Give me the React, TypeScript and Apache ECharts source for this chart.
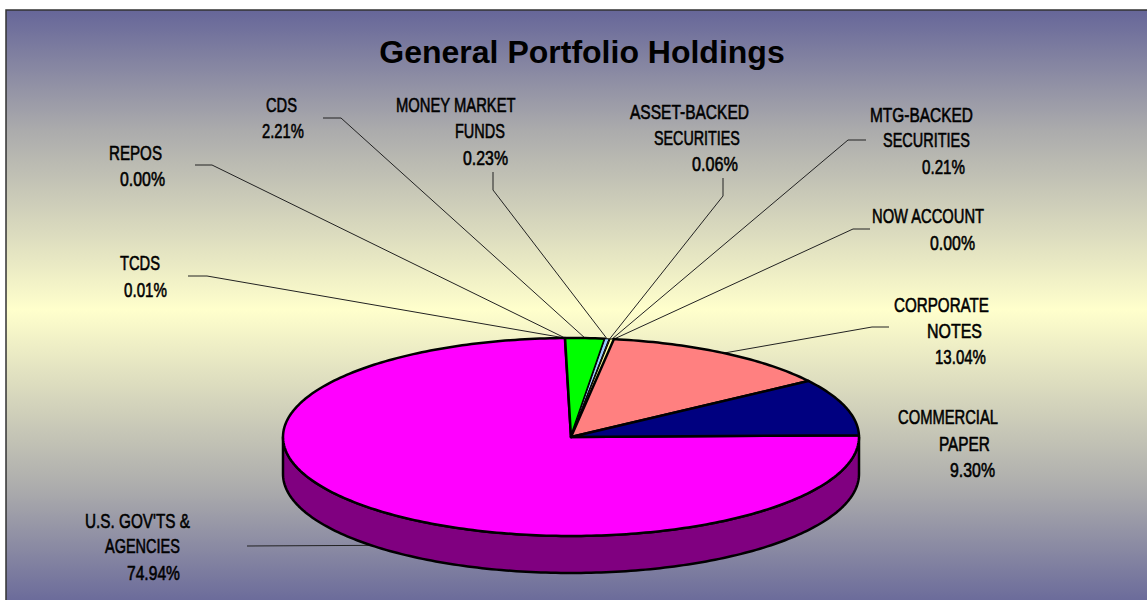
import React, { useEffect, useRef } from "react";
import * as echarts from "echarts";

const categories = [
  ["U.S. GOV'TS &", "AGENCIES"],
  ["TCDS"],
  ["REPOS"],
  ["CDS"],
  ["MONEY MARKET", "FUNDS"],
  ["ASSET-BACKED", "SECURITIES"],
  ["MTG-BACKED", "SECURITIES"],
  ["NOW ACCOUNT"],
  ["CORPORATE", "NOTES"],
  ["COMMERCIAL", "PAPER"],
];
const values = [74.94, 0.01, 0.0, 2.21, 0.23, 0.06, 0.21, 0.0, 13.04, 9.3];
const sliceColors = ["#FF00FF", "#000000", "#000000", "#00FF00", "#99CCFF", "#FFFFCC", "#FFFF99", "#000000", "#FF8080", "#000080"];
const sideColors = ["#800080", "#000000", "#000000", "#008000", "#4C6680", "#808066", "#80804C", "#000000", "#804040", "#000040"];

// Layout only: left edge of each label line, first line's centre y, and leader elbows.
const labelLeft = [
  [85, 105, 127],
  [120, 124],
  [109, 120],
  [266, 262],
  [396, 455, 463],
  [630, 654, 692],
  [870, 883, 922],
  [872, 930],
  [894, 927, 935],
  [898, 939, 950],
];
const labelRight = [
  [190, 180, 180],
  [160, 167],
  [162, 165],
  [297, 304],
  [516, 505, 508],
  [749, 740, 738],
  [973, 970, 965],
  [985, 975],
  [989, 982, 986],
  [998, 990, 995],
];
const labelTop = [520.5, 263.5, 152.5, 105.5, 105.5, 111.5, 114.5, 216.5, 304.5, 417.5];
const leaderStart: (number[][] | null)[] = [
  [[247, 546]],
  [[188, 276], [207, 276]],
  [[195, 165], [212, 165]],
  [[323, 118], [341, 118]],
  [[493, 172], [493, 190]],
  [[723, 178], [723, 196]],
  [[866, 140], [848, 140]],
  [[870, 229], [853, 229]],
  [[889, 327], [872, 327]],
  null,
];

const CX = 571, CY = 437, RX = 288, RY = 99, DEPTH = 37;
const START = -1; // degrees clockwise from east
const LINE_H = 26;

function edge(deg: number, drop = 0) {
  const r = (deg * Math.PI) / 180;
  return [CX + RX * Math.cos(r), CY + RY * Math.sin(r) + drop];
}
function arc(a: number, b: number, drop = 0) {
  const pts: number[][] = [];
  const n = Math.max(1, Math.ceil(Math.abs(b - a)));
  for (let i = 0; i <= n; i++) pts.push(edge(a + ((b - a) * i) / n, drop));
  return pts;
}

const total = values.reduce((s, v) => s + v, 0);
let acc = START;
const spans = values.map((v) => {
  const a = acc;
  acc += (v / total) * 360;
  return [a, acc];
});

function frontParts(a: number, b: number) {
  const parts: number[][] = [];
  for (const k of [0, 360]) {
    const s = Math.max(a, k);
    const e = Math.min(b, k + 180);
    if (e > s) parts.push([s, e]);
  }
  return parts;
}

export default function App() {
  const ref = useRef<HTMLDivElement>(null);
  useEffect(() => {
    document.body.style.margin = "0";
    const chart = echarts.init(ref.current!, null, { renderer: "svg" });
    const labelChildren: any[] = [];
    const measure = document.createElement("canvas").getContext("2d")!;
    const font = "21px 'Liberation Sans Narrow', 'Liberation Sans'";
    measure.font = font;
    categories.forEach((cat, i) => {
      const lines = [...cat, values[i].toFixed(2) + "%"];
      lines.forEach((t, j) => {
        const w = measure.measureText(t).width;
        const target = labelRight[i][j] - labelLeft[i][j];
        labelChildren.push({
          type: "text",
          x: labelLeft[i][j],
          y: labelTop[i] + j * LINE_H,
          scaleX: target / w,
          style: { text: t, font, fill: "#000", textAlign: "left", textVerticalAlign: "middle", stroke: "#000", lineWidth: 0.6 },
        });
      });
    });

    chart.setOption({
      animation: false,
      backgroundColor: "#fff",
      title: {
        text: "General Portfolio Holdings",
        left: 577,
        top: 31,
        textAlign: "center",
        textStyle: { fontFamily: "'Liberation Sans', Arial", fontWeight: "bold", fontSize: 32, color: "#000" },
      },
      graphic: [
        {
          type: "rect",
          z: -10,
          shape: { x: 6, y: 10, width: 1145, height: 600 },
          style: {
            fill: new echarts.graphic.LinearGradient(0, 0, 0, 1, [
              { offset: 0, color: "#666699" },
              { offset: 0.2, color: "#ABABAC" },
              { offset: 0.5, color: "#FFFFCC" },
              { offset: 0.8, color: "#ABABAC" },
              { offset: 1, color: "#666699" },
            ]),
            stroke: "#333",
            lineWidth: 1.5,
          },
        },
        { type: "group", z: 20, children: labelChildren },
      ],
      series: [
        {
          type: "custom",
          coordinateSystem: "none",
          silent: true,
          z: 5,
          data: spans.map((s, i) => ({ value: [s[0], s[1], values[i]] })),
          renderItem: (params: any, api: any) => {
            const a = api.value(0), b = api.value(1);
            const i = params.dataIndex;
            const children: any[] = [];
            const mid = (a + b) / 2;
            const drop = ((mid % 360) + 360) % 360 < 180 ? DEPTH : 0;
            const lw = api.value(2) < 1 ? 1 : 2.5;
            const el = leaderStart[i];
            if (el) {
              const end = edge(mid, drop);
              children.push({
                type: "polyline",
                z2: 1,
                shape: { points: [...el, end] },
                style: { stroke: "#222", lineWidth: 1, fill: "none" },
              });
            }
            frontParts(a, b).forEach(([s, e]) => {
              children.push({
                type: "polygon",
                z2: 2,
                shape: { points: [...arc(s, e), ...arc(e, s, DEPTH)] },
                style: { fill: sideColors[i], stroke: "#000", lineWidth: lw, lineJoin: "round" },
              });
            });
            children.push({
              type: "polygon",
              z2: 3,
              shape: { points: [[CX, CY], ...arc(a, b)] },
              style: { fill: sliceColors[i], stroke: "#000", lineWidth: lw, lineJoin: "round" },
            });
            return { type: "group", children };
          },
        },
      ],
    });
    return () => chart.dispose();
  }, []);
  return <div ref={ref} style={{ position: "absolute", left: 0, top: 0, width: 1147, height: 600, overflow: "hidden" }} />;
}
